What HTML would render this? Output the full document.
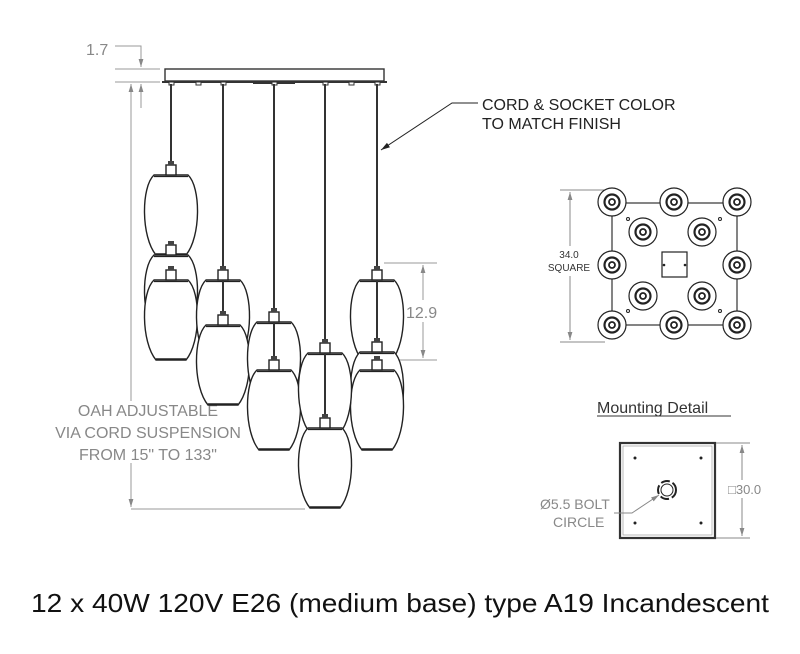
<!DOCTYPE html>
<html><head><meta charset="utf-8"><style>html,body{margin:0;padding:0;background:#fff}svg{display:block}</style></head>
<body>
<svg width="800" height="654" viewBox="0 0 800 654" xmlns="http://www.w3.org/2000/svg" font-family="Liberation Sans, sans-serif">
<defs>
<marker id="ar" viewBox="0 0 10 10" refX="10" refY="5" markerWidth="8" markerHeight="8" orient="auto-start-reverse"><path d="M0,2 L10,5 L0,8 Z" fill="#888"/></marker>
<marker id="ak" viewBox="0 0 10 10" refX="10" refY="5" markerWidth="9" markerHeight="9" orient="auto"><path d="M0,2 L10,5 L0,8 Z" fill="#222"/></marker>
<g id="gl"><path d="M-17,0 C-30,12 -30,62 -15,80 L15,80 C30,62 30,12 17,0 Z" fill="#fff" stroke="#222" stroke-width="1.4"/><line x1="-17" y1="1.5" x2="17" y2="1.5" stroke="#222" stroke-width="1.2"/><line x1="-15" y1="79" x2="15" y2="79" stroke="#222" stroke-width="1.6"/><rect x="-5" y="-10" width="10" height="10" fill="#fff" stroke="#222" stroke-width="1.4"/><rect x="-3" y="-14" width="6" height="4" fill="#444"/></g>
</defs>
<!-- dimensions -->
<g stroke="#999" stroke-width="1" fill="none">
<line x1="115" y1="69" x2="160" y2="69"/><line x1="115" y1="82" x2="160" y2="82"/>
<polyline points="115,46 141,46 141,67" marker-end="url(#ar)"/>
<line x1="141" y1="84" x2="141" y2="108" marker-start="url(#ar)"/>
<line x1="131" y1="84" x2="131" y2="507" marker-start="url(#ar)" marker-end="url(#ar)"/>
<line x1="131" y1="509" x2="305" y2="509"/>
<line x1="384" y1="263" x2="437" y2="263"/><line x1="384" y1="360" x2="437" y2="360"/>
<line x1="423" y1="265" x2="423" y2="358" marker-start="url(#ar)" marker-end="url(#ar)"/>
</g>
<text x="86" y="55" font-size="16" fill="#888">1.7</text>
<rect x="403" y="300" width="40" height="22" fill="#fff"/>
<text x="406" y="318" font-size="16" fill="#888">12.9</text>
<rect x="60" y="401" width="168" height="62" fill="#fff"/>
<g font-size="16" fill="#888" text-anchor="middle">
<text x="148" y="416">OAH ADJUSTABLE</text>
<text x="148" y="438">VIA CORD SUSPENSION</text>
<text x="148" y="460">FROM 15" TO 133"</text>
</g>
<!-- canopy -->
<rect x="165" y="69" width="219" height="12" fill="#fff" stroke="#333" stroke-width="1.4"/>
<line x1="162" y1="82" x2="387" y2="82" stroke="#333" stroke-width="2"/>
<line x1="253" y1="83" x2="295" y2="83" stroke="#333" stroke-width="2"/>
<g fill="#fff" stroke="#333" stroke-width="1"><rect x="169" y="82" width="5" height="3"/><rect x="196" y="82" width="5" height="3"/><rect x="221" y="82" width="5" height="3"/><rect x="272" y="82" width="5" height="3"/><rect x="323" y="82" width="5" height="3"/><rect x="349" y="82" width="5" height="3"/><rect x="375" y="82" width="5" height="3"/></g>
<!-- cords -->
<g stroke="#333" stroke-width="2"><line x1="171" y1="84" x2="171" y2="165"/><line x1="223" y1="84" x2="223" y2="320"/><line x1="274" y1="84" x2="274" y2="360"/><line x1="325" y1="84" x2="325" y2="420"/><line x1="377" y1="84" x2="377" y2="360"/></g>
<!-- glasses back to front -->
<use href="#gl" x="171" y="175"/>
<use href="#gl" x="171" y="255"/>
<use href="#gl" x="171" y="280"/>
<use href="#gl" x="223" y="280"/>
<line x1="223" y1="280" x2="223" y2="320" stroke="#333" stroke-width="2"/>
<use href="#gl" x="223" y="325"/>
<use href="#gl" x="274" y="322"/>
<line x1="274" y1="322" x2="274" y2="362" stroke="#333" stroke-width="2"/>
<use href="#gl" x="274" y="370"/>
<use href="#gl" x="377" y="280"/>
<line x1="377" y1="280" x2="377" y2="360" stroke="#333" stroke-width="2"/>
<use href="#gl" x="377" y="352"/>
<use href="#gl" x="377" y="370"/>
<use href="#gl" x="325" y="353"/>
<line x1="325" y1="353" x2="325" y2="420" stroke="#333" stroke-width="2"/>
<use href="#gl" x="325" y="428"/>
<!-- callout -->
<polyline points="478,103 452,103 381,150" fill="none" stroke="#222" stroke-width="1" marker-end="url(#ak)"/>
<text x="482" y="110" font-size="16" fill="#222">CORD &amp; SOCKET COLOR</text>
<text x="482" y="129" font-size="16" fill="#222">TO MATCH FINISH</text>
<!-- top view -->
<rect x="612" y="203" width="125" height="122" fill="none" stroke="#333" stroke-width="1.2"/>
<g stroke="#888"><line x1="560" y1="190" x2="605" y2="190"/><line x1="560" y1="342" x2="605" y2="342"/><line x1="570" y1="192" x2="570" y2="340" marker-start="url(#ar)" marker-end="url(#ar)"/></g>
<rect x="545" y="246" width="48" height="30" fill="#fff"/>
<text x="569" y="258" font-size="10" fill="#333" text-anchor="middle">34.0</text>
<text x="569" y="271" font-size="10" fill="#333" text-anchor="middle">SQUARE</text>
<g fill="#fff" stroke="#222">
<g id="sk"><circle cx="612" cy="202" r="14" stroke-width="1.2"/><circle cx="612" cy="202" r="7.5" stroke-width="2.2"/><circle cx="612" cy="202" r="3" stroke-width="1.8"/></g>
<use href="#sk" x="62"/><use href="#sk" x="125"/>
<use href="#sk" x="31" y="30"/><use href="#sk" x="90" y="30"/>
<use href="#sk" y="63"/><use href="#sk" x="125" y="63"/>
<use href="#sk" x="31" y="94"/><use href="#sk" x="90" y="94"/>
<use href="#sk" y="123"/><use href="#sk" x="62" y="123"/><use href="#sk" x="125" y="123"/>
<rect x="662" y="252" width="25" height="25" stroke-width="1.2"/>
<circle cx="628" cy="219" r="1.5"/><circle cx="720" cy="219" r="1.5"/><circle cx="628" cy="311" r="1.5"/><circle cx="720" cy="311" r="1.5"/>
</g>
<circle cx="664" cy="265" r="1.3" fill="#222"/><circle cx="685" cy="265" r="1.3" fill="#222"/>
<!-- mounting detail -->
<text x="597" y="413" font-size="16" fill="#333">Mounting Detail</text>
<line x1="597" y1="416" x2="731" y2="416" stroke="#333" stroke-width="1"/>
<rect x="620" y="443" width="95" height="95" fill="none" stroke="#333" stroke-width="2.2"/>
<rect x="623" y="446" width="89" height="89" fill="none" stroke="#aaa" stroke-width="0.8"/>
<g fill="#222"><circle cx="635" cy="458" r="1.5"/><circle cx="701" cy="458" r="1.5"/><circle cx="635" cy="523" r="1.5"/><circle cx="701" cy="523" r="1.5"/></g>
<circle cx="667" cy="490" r="9" fill="none" stroke="#222" stroke-width="2" stroke-dasharray="9 3"/>
<circle cx="667" cy="490" r="6" fill="none" stroke="#222" stroke-width="1"/>
<polyline points="614,513 632,513 659,495" fill="none" stroke="#888" marker-end="url(#ar)"/>
<text x="540" y="509" font-size="14" fill="#888">Ø5.5 BOLT</text>
<text x="553" y="527" font-size="14" fill="#888">CIRCLE</text>
<g stroke="#888"><line x1="716" y1="443" x2="750" y2="443"/><line x1="716" y1="538" x2="750" y2="538"/><line x1="742" y1="445" x2="742" y2="536" marker-start="url(#ar)" marker-end="url(#ar)"/></g>
<rect x="726" y="480" width="40" height="18" fill="#fff"/>
<text x="728" y="494" font-size="13" fill="#888">□30.0</text>
<!-- caption -->
<text x="31" y="612" font-size="26" fill="#111" textLength="738" lengthAdjust="spacingAndGlyphs">12 x 40W 120V E26 (medium base) type A19 Incandescent</text>
</svg>
</body></html>
